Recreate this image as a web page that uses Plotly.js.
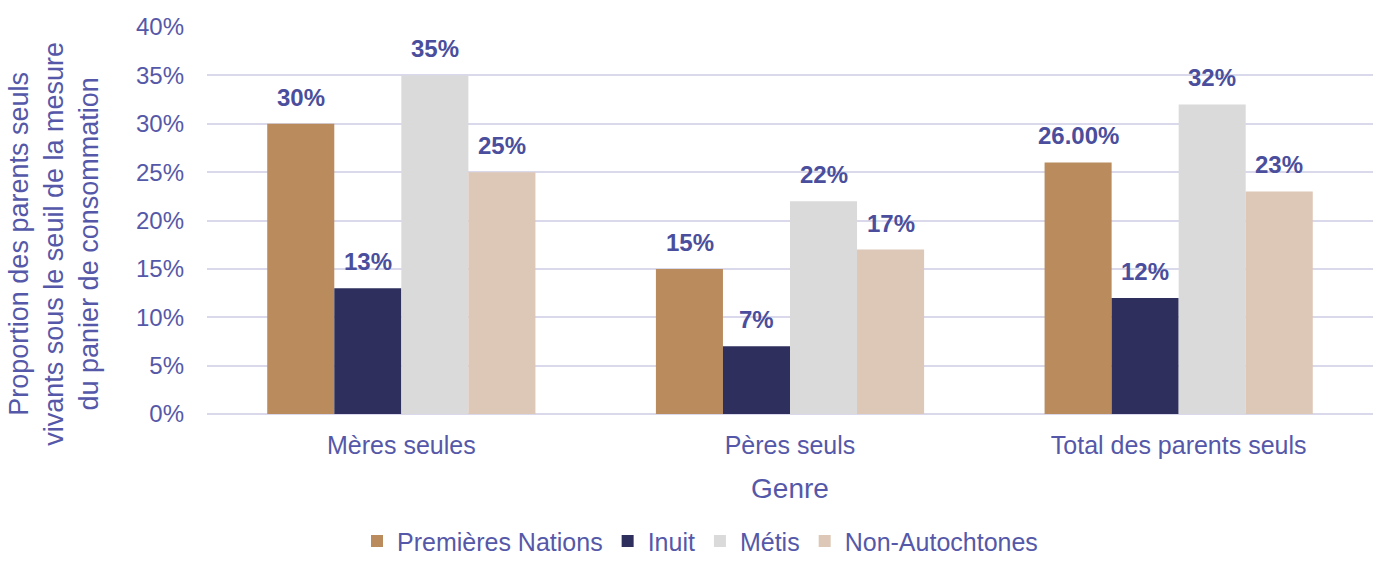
<!DOCTYPE html>
<html>
<head>
<meta charset="utf-8">
<script src="https://cdn.plot.ly/plotly-3.0.1.min.js"></script>
<style>
  html, body { margin: 0; padding: 0; background: #fff; }
  #myDiv { width: 1400px; height: 577px; }
</style>
</head>
<body>
<div id="myDiv"></div>
<script>
var categories = ['Mères seules', 'Pères seuls', 'Total des parents seuls'];

var premieresNations = [0.30, 0.15, 0.26];
var inuit = [0.13, 0.07, 0.12];
var metis = [0.35, 0.22, 0.32];
var nonAutochtones = [0.25, 0.17, 0.23];

var labelsPN = ['30%', '15%', '26.00%'];
var labelsInuit = ['13%', '7%', '12%'];
var labelsMetis = ['35%', '22%', '32%'];
var labelsNA = ['25%', '17%', '23%'];

var yTitle = 'Proportion des parents seuls<br>vivants sous le seuil de la mesure<br>du panier de consommation';

var textCol = '#5558A8';
var fontFam = 'Liberation Sans, Arial, sans-serif';

var series = [
  {name: 'Premières Nations', vals: premieresNations, labels: labelsPN, color: '#B98B5D'},
  {name: 'Inuit', vals: inuit, labels: labelsInuit, color: '#2E2F5C'},
  {name: 'Métis', vals: metis, labels: labelsMetis, color: '#DADADA'},
  {name: 'Non-Autochtones', vals: nonAutochtones, labels: labelsNA, color: '#DDC7B6'}
];

var data = series.map(function (s) {
  return {
    x: categories,
    y: s.vals,
    name: s.name,
    type: 'bar',
    marker: {color: s.color},
    hoverinfo: 'skip'
  };
});

// value labels sit above each bar, shifted sideways to the bar's slot in the group
var barPx = 67;
var annotations = [];
series.forEach(function (s, k) {
  var shift = (k - 1.5) * barPx;
  for (var i = 0; i < categories.length; i++) {
    annotations.push({
      x: categories[i],
      y: s.vals[i],
      xref: 'x',
      yref: 'y',
      text: '<b>' + s.labels[i] + '</b>',
      showarrow: false,
      xshift: shift,
      yshift: 11,
      yanchor: 'bottom',
      font: {family: fontFam, size: 24, color: '#4A4E9C'}
    });
  }
});

// y axis title, drawn as a rotated note so it can sit a bit lower than centre
annotations.push({
  xref: 'paper', yref: 'paper',
  x: 0, y: 0.44,
  xanchor: 'right', yanchor: 'middle',
  xshift: -101,
  textangle: -90,
  showarrow: false,
  align: 'center',
  text: yTitle,
  font: {family: fontFam, size: 27, color: textCol}
});

var layout = {
  width: 1400,
  height: 577,
  barmode: 'group',
  bargap: 0.31,
  bargroupgap: 0,
  paper_bgcolor: '#ffffff',
  plot_bgcolor: '#ffffff',
  font: {family: fontFam, color: textCol, size: 24},
  margin: {l: 207, r: 27, t: 27, b: 163},
  annotations: annotations,
  xaxis: {
    title: {text: 'Genre', font: {size: 28, color: textCol}, standoff: 20},
    tickfont: {size: 25, color: textCol},
    ticklabelstandoff: 14,
    showline: false,
    ticks: ''
  },
  yaxis: {
    range: [0, 0.4],
    dtick: 0.05,
    tickformat: '.0%',
    tickfont: {size: 24, color: textCol},
    ticklabelstandoff: 22,
    gridcolor: '#D9D9EB',
    gridwidth: 2,
    zeroline: true,
    zerolinecolor: '#D9D9EB',
    zerolinewidth: 2,
    ticks: ''
  },
  legend: {
    orientation: 'h',
    xref: 'container',
    x: 0.5,
    xanchor: 'center',
    yref: 'container',
    y: 0.062,
    yanchor: 'middle',
    font: {size: 25, color: textCol},
    itemwidth: 30,
    traceorder: 'normal'
  },
  showlegend: true
};

Plotly.newPlot('myDiv', data, layout, {displayModeBar: false, staticPlot: true});
</script>
</body>
</html>
